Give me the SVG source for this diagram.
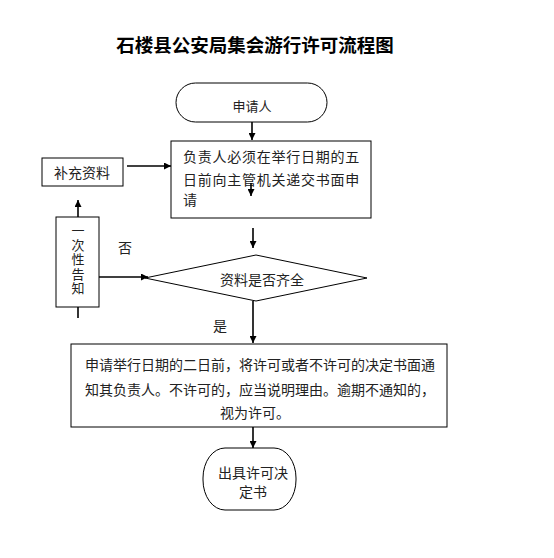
<svg xmlns="http://www.w3.org/2000/svg" width="554" height="558" viewBox="0 0 554 558">
<defs>
<marker id="ah" viewBox="0 0 10 10" refX="10" refY="5" markerWidth="7" markerHeight="7" markerUnits="userSpaceOnUse" orient="auto">
<path d="M0,0 L10,5 L0,10 z" fill="#000"/>
</marker>
<style>
.t{font-family:"Liberation Serif","Noto Sans CJK SC",serif;font-size:14px;fill:#222;}
.v{font-size:13px;}
.c{text-anchor:middle;}
.s{fill:#fff;stroke:#000;stroke-width:1;}
.l{stroke:#000;stroke-width:1.6;fill:none;}
.a{marker-end:url(#ah);}
</style>
</defs>
<rect width="554" height="558" fill="#fff"/>
<text x="255" y="52" class="c" style="font-family:'Liberation Serif','Noto Sans CJK SC',serif;font-size:18.5px;font-weight:bold;fill:#000;">石楼县公安局集会游行许可流程图</text>

<g id="start">
<rect class="s" x="176" y="83" width="151" height="39" rx="19.5" ry="19.5"/>
<text x="252" y="111" class="t c" style="font-size:13px">申请人</text>
</g>

<g id="apply">
<rect class="s" x="171" y="141" width="200" height="77"/>
<text x="183" y="162" class="t" style="letter-spacing:0.75px">负责人必须在举行日期的五</text>
<text x="183" y="185" class="t" style="letter-spacing:0.75px">日前向主管机关递交书面申</text>
<text x="183" y="205" class="t">请</text>
</g>

<g id="supplement">
<rect class="s" x="42" y="158" width="81" height="28"/>
<text x="82" y="178" class="t c">补充资料</text>
</g>

<g id="notify">
<rect class="s" x="56" y="217" width="43" height="90"/>
<text x="78" y="235" class="t v c">一</text>
<text x="78" y="250" class="t v c">次</text>
<text x="78" y="264" class="t v c">性</text>
<text x="78" y="279" class="t v c">告</text>
<text x="78" y="293" class="t v c">知</text>
</g>

<g id="check">
<polygon class="s" points="145,278 256,255 367,278 256,301"/>
<text x="262" y="285" class="t c">资料是否齐全</text>
</g>

<g id="decision">
<rect class="s" x="71" y="344" width="376" height="83"/>
<text x="85" y="370" class="t">申请举行日期的二日前，将许可或者不许可的决定书面通</text>
<text x="85" y="395" class="t">知其负责人。不许可的，应当说明理由。逾期不通知的，</text>
<text x="255" y="418" class="t c">视为许可。</text>
</g>

<g id="end">
<rect class="s" x="203" y="448" width="93" height="62" rx="22" ry="30"/>
<text x="253" y="478" class="t c">出具许可决</text>
<text x="253" y="497" class="t c">定书</text>
</g>

<g id="connectors">
<line class="l a" x1="252" y1="122" x2="252" y2="140"/>
<line class="l a" x1="251" y1="183" x2="251" y2="196"/>
<line class="l a" x1="253" y1="228" x2="253" y2="248"/>
<line class="l a" x1="99" y1="277" x2="148" y2="277"/>
<line class="l" x1="78" y1="307" x2="78" y2="318"/>
<line class="l a" x1="78" y1="217" x2="78" y2="200"/>
<line class="l a" x1="127" y1="166" x2="171" y2="166"/>
<line class="l a" x1="253" y1="301" x2="253" y2="343"/>
<line class="l a" x1="253" y1="427" x2="253" y2="448"/>
<text x="125" y="253" class="t c">否</text>
<text x="220" y="331" class="t c">是</text>
</g>
</svg>
